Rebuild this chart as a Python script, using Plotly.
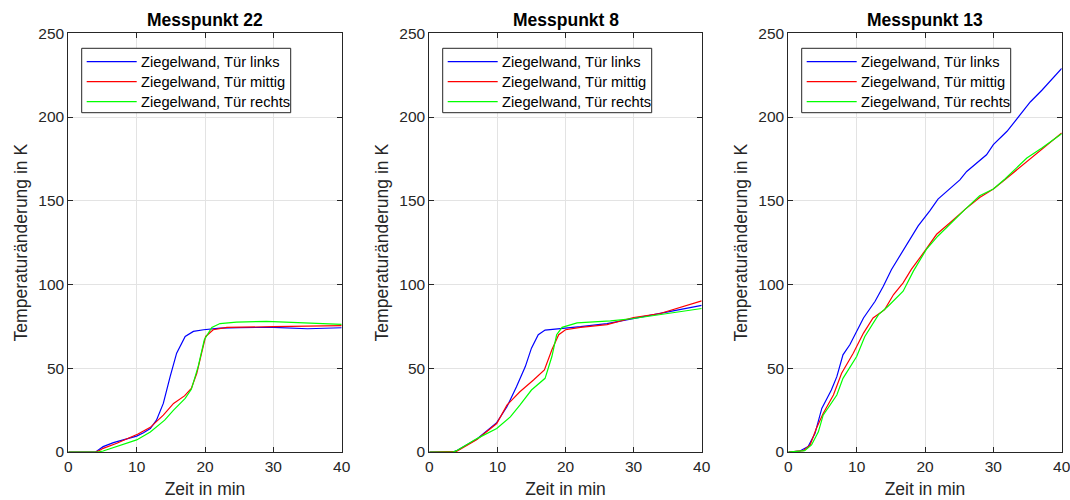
import plotly.graph_objects as go

# ---------------- data ----------------
titles = ["Messpunkt 22", "Messpunkt 8", "Messpunkt 13"]
names = ["Ziegelwand, Tür links", "Ziegelwand, Tür mittig", "Ziegelwand, Tür rechts"]
colors = ["#0000ff", "#ff0000", "#00ff00"]

# Messpunkt 22
mp22_links_t = [0, 4.0, 4.5, 5.1, 6.6, 8.5, 10, 11, 12, 12.9, 13.9, 14.9, 15.85, 17.1, 18.3, 19.8, 22.2, 25, 30, 35, 40]
mp22_links_y = [0, 0, 1.5, 3.2, 5.6, 7.8, 9.5, 11.5, 14, 19, 29, 45, 59, 69, 72, 73, 74, 74.3, 74.4, 73.6, 74.2]
mp22_mittig_t = [0, 4.0, 4.5, 5.1, 7.1, 10.2, 12, 13.9, 15.4, 17.0, 18, 18.8, 19.5, 20.1, 21.2, 23.2, 30, 35, 40]
mp22_mittig_y = [0, 0, 0.8, 2.2, 5.2, 10.7, 14.7, 22, 29, 33.5, 38, 47, 59, 69, 73, 74.4, 74.8, 75.0, 75.4]
mp22_rechts_t = [0, 4.3, 5.1, 7.1, 10, 12, 14.1, 15.4, 17.1, 18, 19, 19.9, 21, 22.2, 24.6, 29, 32.9, 40]
mp22_rechts_y = [0, 0, 0.6, 3.2, 7.2, 12, 19, 25, 32, 37.4, 51, 67, 74.4, 76.7, 77.5, 78, 77.3, 76.2]

# Messpunkt 8
mp8_links_t = [0, 3.5, 4.0, 7.0, 9.9, 11.4, 12.8, 14.1, 15.0, 16.0, 17.0, 19.7, 22.2, 26.1, 30, 33.9, 40]
mp8_links_y = [0, 0, 0.8, 7.8, 17.5, 27, 39, 51, 62, 70, 72.8, 73.8, 74.8, 76.7, 79.7, 82.7, 87.5]
mp8_mittig_t = [0, 3.5, 4.0, 7.0, 9.9, 11.4, 13.3, 15.3, 16.9, 18, 19, 20, 22.2, 26.1, 30, 33.9, 40]
mp8_mittig_y = [0, 0, 0.4, 7.5, 17, 28, 36, 43, 49, 61, 70, 73, 74.4, 76.1, 80.3, 82.7, 90.2]
mp8_rechts_t = [0, 3.5, 4.0, 7.0, 9.9, 11.9, 13.3, 15.0, 17.0, 18, 18.7, 19.5, 21.7, 26.6, 30, 33.9, 40]
mp8_rechts_y = [0, 0, 0.8, 8, 14, 21, 28, 37, 44, 57, 70, 74.4, 77.1, 78.3, 79.7, 82.1, 85.7]

# Messpunkt 13
mp13_links_t = [0, 1.7, 2.9, 3.9, 4.9, 6.3, 7.1, 8.0, 9.0, 11, 12.7, 13.9, 15.1, 17.3, 19, 20.7, 21.9, 25.1, 26.1, 29, 30, 32, 33.2, 35.4, 37.1, 40]
mp13_links_y = [0, 0.6, 3.2, 11, 26, 37, 45, 58, 64, 80, 90, 99, 109, 124, 135, 144, 151, 162.5, 167.5, 177.5, 183.5, 191.5, 197.5, 209, 216, 229]
mp13_mittig_t = [0, 2.2, 3.2, 4.1, 5.1, 6.6, 7.8, 9.5, 11, 12.4, 14.1, 15.4, 16.8, 18, 19.8, 21.7, 23.7, 25.9, 28, 30, 31.5, 34.9, 40]
mp13_mittig_y = [0, 0.8, 4.2, 14, 23, 34, 47, 59, 71, 80, 85, 94, 101, 109, 119, 130, 137, 145, 152, 157, 162, 173.5, 190.5]
mp13_rechts_t = [0, 2.4, 3.4, 4.4, 5.1, 7.1, 8.0, 10, 11.2, 13.2, 14.6, 16.8, 18.3, 20.2, 21.9, 24.1, 25.9, 28, 30, 31.7, 34.9, 37.1, 40]
mp13_rechts_y = [0, 0.8, 4.2, 12, 22, 34, 44, 57, 69, 82, 87, 96, 108, 121, 129, 138, 145, 153, 157, 163, 175.5, 181.5, 190]

x_ticks = [0, 10, 20, 30, 40]
y_ticks = [0, 50, 100, 150, 200, 250]

series = [
    [(mp22_links_t, mp22_links_y), (mp22_mittig_t, mp22_mittig_y), (mp22_rechts_t, mp22_rechts_y)],
    [(mp8_links_t, mp8_links_y), (mp8_mittig_t, mp8_mittig_y), (mp8_rechts_t, mp8_rechts_y)],
    [(mp13_links_t, mp13_links_y), (mp13_mittig_t, mp13_mittig_y), (mp13_rechts_t, mp13_rechts_y)],
]

# ---------------- layout ----------------
W, H = 1070, 500
ML, MR, MT, MB = 68, 8, 33, 48
PW, PH = W - ML - MR, H - MT - MB
x_px = [(68.3, 341.7), (429.3, 701.7), (788.3, 1061.7)]
y_top, y_bot = 33.3, 452.0

fig = go.Figure()
text_col = "#262626"
font_family = "Liberation Sans, Arial, Helvetica, sans-serif"

layout = dict(
    width=W, height=H,
    margin=dict(l=ML, r=MR, t=MT, b=MB),
    paper_bgcolor="white", plot_bgcolor="white",
    font=dict(family=font_family, color=text_col, size=15),
    showlegend=False,
    annotations=[], shapes=[],
)

def dx(px, i):
    x0, x1 = x_px[i]
    return px / (x1 - x0)

def dy(py):
    return (y_bot - py) / (y_bot - y_top)

for i in range(3):
    ax = "" if i == 0 else str(i + 1)
    for j in range(3):
        t, y = series[i][j]
        fig.add_trace(go.Scatter(
            x=t, y=y, mode="lines", name=names[j],
            line=dict(color=colors[j], width=1.2),
            xaxis="x" + ax, yaxis="y" + ax,
        ))
    common = dict(
        automargin=False, ticklabeloverflow="allow",
        showline=True, linecolor=text_col, linewidth=1, mirror="ticks",
        ticks="inside", ticklen=5, tickcolor=text_col, tickwidth=1,
        showgrid=True, gridcolor="#e3e3e3", gridwidth=1, zeroline=False,
        tickfont=dict(size=15.5, color=text_col),
    )
    layout["xaxis" + ax] = dict(
        domain=[(x_px[i][0] - ML) / PW, (x_px[i][1] - ML) / PW], anchor="y" + ax,
        range=[0, 40], tickvals=x_ticks,
        title=dict(text="Zeit in min", font=dict(size=17.5, color=text_col), standoff=9),
        **common,
    )
    layout["yaxis" + ax] = dict(
        domain=[(H - MB - y_bot) / PH, (H - MB - y_top) / PH], anchor="x" + ax,
        range=[0, 250], tickvals=y_ticks,
        title=dict(text="Temperaturänderung in K", font=dict(size=17.5, color=text_col), standoff=6),
        **common,
    )
    # title
    layout["annotations"].append(dict(
        text="<b>" + titles[i] + "</b>", xref="x" + ax + " domain", yref="paper",
        x=0.5, y=(H - MB - 20) / PH, xanchor="center", yanchor="middle", showarrow=False,
        font=dict(size=17.5, color="#000000"),
    ))
    # legend box
    xr, yr = "x" + ax + " domain", "y" + ax + " domain"
    layout["shapes"].append(dict(
        type="rect", xref=xr, yref=yr,
        x0=dx(13.4, i), x1=dx(222.4, i), y0=dy(112.7), y1=dy(48.3),
        line=dict(color="#262626", width=1), fillcolor="white", layer="above",
    ))
    for j in range(3):
        row_y = 61.7 + 20 * j
        layout["shapes"].append(dict(
            type="line", xref=xr, yref=yr,
            x0=dx(18.4, i), x1=dx(68.4, i), y0=dy(row_y), y1=dy(row_y),
            line=dict(color=colors[j], width=1.2), layer="above",
        ))
        layout["annotations"].append(dict(
            text=names[j], xref=xr, yref=yr,
            x=dx(70.5, i), y=dy(row_y), xanchor="left", yanchor="middle", showarrow=False,
            font=dict(size=14.7, color="#000000"),
        ))

fig.update_layout(**layout)
fig.write_html("out.html")
